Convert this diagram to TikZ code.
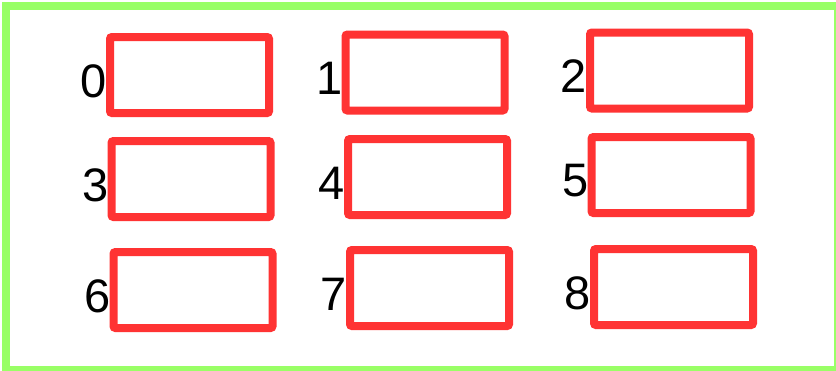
\documentclass[tikz,border=0pt]{standalone}
\usepackage{fontspec}
\setmainfont{Liberation Sans}
\definecolor{framegreen}{HTML}{99FF66}
\definecolor{boxred}{HTML}{FF3333}
\tikzset{
    slot/.style={draw=boxred, line width=8pt, rounded corners=2pt,
        minimum width=159pt, minimum height=76pt, inner sep=0pt},
    slotlabel/.style={anchor=east, inner sep=0pt, yshift=-6pt,
        font=\fontsize{47}{50}\selectfont}
}
\begin{document}
\begin{tikzpicture}[x=1pt,y=-1pt]
    \useasboundingbox (0,0) rectangle (836,370);
    % Outer frame
    \draw[framegreen, line width=7.5pt] (6,6) rectangle (837.5,369.5);

    % Boxes with their numbers
    \foreach \i/\x/\y in {0/189.5/75, 1/425/72.5, 2/669.5/70.5,
                          3/191/179, 4/427.5/177, 5/671/175,
                          6/193/290, 7/429.5/288, 8/673.5/287}
    {
        \node[slot] (box\i) at (\x,\y) {};
        \node[slotlabel] (lbl\i) at ([xshift=1pt]box\i.west) {\i};
    }
\end{tikzpicture}
\end{document}
